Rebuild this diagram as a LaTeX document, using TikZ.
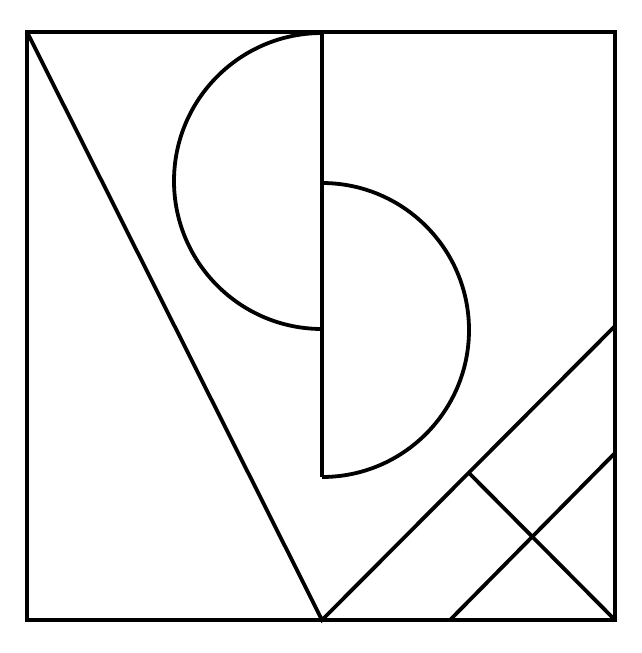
\documentclass[tikz,border=0pt]{standalone}
\begin{document}
\begin{tikzpicture}[x=1pt,y=-1pt,line join=miter]
\tikzset{ink/.style={draw=black,line width=3.8pt}}
\useasboundingbox (0,0) rectangle (642,653);
\coordinate (TL) at (27,32);
\coordinate (TR) at (615,32);
\coordinate (BR) at (615,620);
\coordinate (BL) at (27,620);
\coordinate (Vt) at (322,32);
\coordinate (Vb) at (322,477);
\coordinate (Bm) at (322,620);
\coordinate (Rm) at (615,326);
\coordinate (K) at (469,473);
\coordinate (B2) at (450,620);
\coordinate (R2) at (615,453);
% vertical line
\draw[ink] (Vt) -- (Vb);
% left semicircle: from top (322,33) around left to (322,329)
\draw[ink] (322,33) arc[start angle=-90,end angle=-270,radius=148];
% right semicircle: from (322,183) around right to (322,477)
\draw[ink] (322,183) arc[start angle=-90,end angle=90,radius=147];
% diagonals
\draw[ink] (TL) -- (Bm) -- (Rm);
\draw[ink] (K) -- (BR);
\draw[ink] (B2) -- (R2);
% frame
\draw[ink] (TL) -- (TR) -- (BR) -- (BL) -- cycle;
\end{tikzpicture}
\end{document}
